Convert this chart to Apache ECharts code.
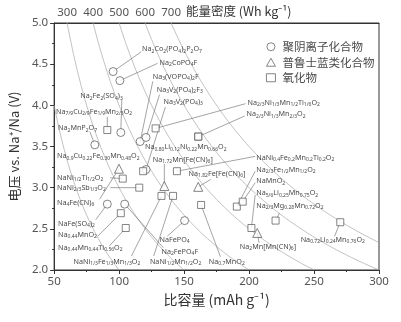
<!DOCTYPE html>
<html><head><meta charset="utf-8">
<script src="https://cdn.jsdelivr.net/npm/echarts@6/dist/echarts.min.js"></script>
<style>html,body{margin:0;padding:0;background:#fff}#c{width:401px;height:322px}</style>
</head><body><div id="c"></div>
<script>
// ---------- DATA ----------
// Specific capacity (mAh/g) and voltage (V vs Na+/Na) of each cathode material
const polyanion = [
  ['Na_2Co_2(PO_4)_2P_2O_7', 95.4, 4.41],
  ['Na_2CoPO_4F', 100.6, 4.30],
  ['Na_2Fe_2(SO_4)_3', 101.3, 3.67],
  ['Na_2MnP_2O_7', 81.3, 3.52],
  ['Na_3(VOPO_4)_2F', 116.2, 3.56],
  ['Na_3V_2(PO_4)_2F_3', 120.7, 3.61],
  ['Na_3V_2(PO_4)_3', 120.7, 3.22],
  ['NaFe(SO_4)_2', 90.9, 2.80],
  ['Na_2FePO_4F', 104.3, 2.80],
  ['NaFePO_4', 150.4, 2.60]
];
const prussian = [
  ['Na_4Fe(CN)_6', 99.9, 3.23],
  ['Na_1.72Mn[Fe(CN)_6]', 134.8, 3.02],
  ['Na_1.82Fe[Fe(CN)_6]', 160.9, 3.01],
  ['Na_2Mn[Mn(CN)_6]', 206.3, 2.45]
];
const oxide = [
  ['Na_7/9Cu_2/9Fe_1/9Mn_2/3O_2', 90.9, 3.70],
  ['Na_2/3Ni_1/3Mn_1/2Ti_1/6O_2', 128.1, 3.72],
  ['Na_2/3Ni_1/3Mn_2/3O_2', 160.9, 3.62],
  ['Na_0.80Li_0.12Ni_0.22Mn_0.66O_2', 160.9, 3.62],
  ['Na_0.9Cu_0.22Fe_0.30Mn_0.48O_2', 118.5, 3.20],
  ['NaNi_1/2Ti_1/2O_2', 102.8, 3.11],
  ['NaNi_2/3Sb_1/3O_2', 115.5, 3.00],
  ['NaNi_1/3Fe_1/3Mn_1/3O_2', 132.6, 2.90],
  ['NaNi_1/2Mn_1/2O_2', 141.5, 2.90],
  ['NaNi_0.4Fe_0.2Mn_0.2Ti_0.2O_2', 144.5, 3.20],
  ['Na_0.7MnO_2', 163.1, 2.79],
  ['Na_2/3Fe_1/2Mn_1/2O_2', 190.6, 2.77],
  ['NaMnO_2', 195.1, 2.83],
  ['Na_5/6Li_0.25Mn_0.75O_2', 201.8, 2.51],
  ['Na_2/3Mg_0.28Mn_0.72O_2', 220.4, 2.60],
  ['Na_0.72Li_0.24Mn_0.76O_2', 270.2, 2.58],
  ['Na_0.44MnO_2', 101.3, 2.69],
  ['Na_0.44Mn_0.44Ti_0.56O_2', 105.1, 2.51]
];
const categoryNames = ['聚阴离子化合物', '普鲁士蓝类化合物', '氧化物'];
// iso-energy-density guide curves (Wh/kg): V = E / C
const energyLevels = [200, 300, 400, 500, 600, 700];
const xTickValues = [50, 100, 150, 200, 250, 300];
const yTickValues = [2.0, 2.5, 3.0, 3.5, 4.0, 4.5, 5.0];
const topTickLabels = [300, 400, 500, 600, 700];

// ---------- LAYOUT (label anchor & leader start, in data units) ----------
const labelLayout = [
  ['Na_2Co_2(PO_4)_2P_2O_7', [117.7, 4.68], [117.0, 4.65]],
  ['Na_2CoPO_4F', [131.1, 4.52], [129.6, 4.51]],
  ['Na_3(VOPO_4)_2F', [125.9, 4.35], [125.9, 4.29]],
  ['Na_3V_2(PO_4)_2F_3', [128.9, 4.19], [131.1, 4.13]],
  ['Na_3V_2(PO_4)_3', [134.1, 4.04], [135.6, 3.98]],
  ['Na_2/3Ni_1/3Mn_1/2Ti_1/6O_2', [198.8, 4.03], [197.3, 4.02]],
  ['Na_2/3Ni_1/3Mn_2/3O_2', [198.1, 3.89], [196.6, 3.87]],
  ['NaNi_0.4Fe_0.2Mn_0.2Ti_0.2O_2', [205.5, 3.36], [204.7, 3.38]],
  ['Na_2/3Fe_1/2Mn_1/2O_2', [205.5, 3.22], [204.7, 3.20]],
  ['NaMnO_2', [205.5, 3.08], [204.7, 3.06]],
  ['Na_5/6Li_0.25Mn_0.75O_2', [205.5, 2.93], [204.7, 2.91]],
  ['Na_2/3Mg_0.28Mn_0.72O_2', [205.5, 2.78], [223.4, 2.69]],
  ['Na_0.80Li_0.12Ni_0.22Mn_0.66O_2', [119.9, 3.49], null],
  ['Na_1.72Mn[Fe(CN)_6]', [125.9, 3.34], [134.8, 3.29]],
  ['Na_1.82Fe[Fe(CN)_6]', [153.4, 3.17], [170.5, 3.10]],
  ['Na_2Fe_2(SO_4)_3', [70.1, 4.11], [102.1, 4.07]],
  ['Na_7/9Cu_2/9Fe_1/9Mn_2/3O_2', [51.5, 3.92], [90.9, 3.86]],
  ['Na_2MnP_2O_7', [53.0, 3.72], [77.5, 3.68]],
  ['Na_0.9Cu_0.22Fe_0.30Mn_0.48O_2', [52.2, 3.38], null],
  ['NaNi_1/2Ti_1/2O_2', [52.2, 3.12], [93.2, 3.12]],
  ['NaNi_2/3Sb_1/3O_2', [52.2, 3.00], [93.2, 3.00]],
  ['Na_4Fe(CN)_6', [52.2, 2.82], [85.0, 2.86]],
  ['NaFe(SO_4)_2', [53.0, 2.56], [82.0, 2.61]],
  ['Na_0.44MnO_2', [53.0, 2.43], [83.5, 2.41]],
  ['Na_0.44Mn_0.44Ti_0.56O_2', [53.0, 2.27], [92.4, 2.29]],
  ['NaNi_1/3Fe_1/3Mn_1/3O_2', [64.9, 2.10], [109.5, 2.17]],
  ['NaNi_1/2Mn_1/2O_2', [123.7, 2.10], [126.6, 2.17]],
  ['NaFePO_4', [131.1, 2.37], [137.1, 2.41]],
  ['Na_2FePO_4F', [132.6, 2.22], [134.1, 2.27]],
  ['Na_0.7MnO_2', [169.0, 2.10], [178.0, 2.16]],
  ['Na_2Mn[Mn(CN)_6]', [192.9, 2.28], [207.7, 2.33]],
  ['Na_0.72Li_0.24Mn_0.76O_2', [239.7, 2.37], [265.8, 2.41]]
];

// ---------- BUILD ----------
const FONT = '"Noto Sans", "Open Sans", sans-serif';
const CJK = '"Noto Sans CJK SC", sans-serif';
const TXT = '#4a4a4a';
function toRich(s) {
  let out = '', buf = '', i = 0;
  const flush = () => { if (buf) { out += '{m|' + buf + '}'; buf = ''; } };
  while (i < s.length) {
    const ch = s[i];
    if (ch === '_') {
      flush();
      let j = i + 1, sub = '';
      while (j < s.length && /[0-9.\/]/.test(s[j])) { sub += s[j]; j++; }
      out += '{s|' + sub + '}';
      i = j;
    } else { buf += ch; i++; }
  }
  flush();
  return out;
}
const allPoints = {};
[polyanion, prussian, oxide].forEach(arr => arr.forEach(p => { allPoints[p[0]] = [p[1], p[2]]; }));
const annData = labelLayout.map(l => {
  const target = allPoints[l[0]];
  const from = l[2] || [NaN, NaN];
  return [l[1][0], l[1][1], from[0], from[1], target[0], target[1], l[0]];
});
const richStyles = {
  m: { fontSize: 7.2, lineHeight: 9, fontFamily: FONT, fill: TXT, color: TXT },
  s: { fontSize: 5, lineHeight: 5, fontFamily: FONT, verticalAlign: 'bottom', fill: TXT, color: TXT }
};

const curveSeries = energyLevels.map(E => {
  const cStart = Math.max(50, E / 5), cEnd = Math.min(300, E / 2);
  const pts = [];
  for (let c = cStart; c < cEnd; c += 1) pts.push([c, E / c]);
  pts.push([cEnd, E / cEnd]);
  return {
    type: 'line', data: pts, showSymbol: false, symbol: 'none', silent: true, z: 1,
    lineStyle: { color: '#a8a8a8', width: 0.7 }
  };
});

const markerStyle = { color: '#fff', borderColor: '#555', borderWidth: 0.9 };
function scatter(name, arr, symbol, size) {
  return {
    name, type: 'scatter', symbol, symbolSize: size, z: 5,
    itemStyle: markerStyle,
    data: arr.map(p => [p[1], p[2], p[0]])
  };
}

const chart = echarts.init(document.getElementById('c'), null, { renderer: 'canvas' });
chart.setOption({
  animation: false,
  backgroundColor: '#fff',
  grid: { left: 43, right: 22, top: 23, bottom: 52, show: true, borderColor: '#333', borderWidth: 1 },
  legend: {
    data: categoryNames, orient: 'vertical', left: 261, top: 36, itemWidth: 9, itemHeight: 8, itemGap: 4,
    itemStyle: { color: '#fff', borderColor: '#555', borderWidth: 0.9 },
    textStyle: { fontSize: 11.5, color: TXT, fontFamily: CJK, padding: [0, 0, 0, 2] }
  },
  graphic: [{
    type: 'text', left: 186, top: 5,
    style: { text: '能量密度 (Wh kg⁻¹)', fontSize: 12.5, fill: '#333', fontFamily: CJK }
  }],
  xAxis: [{
    type: 'value', min: xTickValues[0], max: xTickValues[xTickValues.length - 1], interval: 50,
    name: '比容量 (mAh g⁻¹)', nameLocation: 'middle', nameGap: 20,
    nameTextStyle: { fontSize: 14, color: '#333', fontFamily: CJK },
    axisLine: { lineStyle: { color: '#333' } },
    axisTick: { length: 4, lineStyle: { color: '#333' } },
    minorTick: { show: true, splitNumber: 2, length: 2, lineStyle: { color: '#333' } },
    splitLine: { show: false },
    axisLabel: { fontSize: 11.5, color: '#555', margin: 6, fontFamily: FONT }
  }, {
    type: 'value', position: 'top', min: 250, max: 1500, interval: 50,
    axisLine: { show: true, lineStyle: { color: '#333' } },
    axisTick: { show: false }, splitLine: { show: false },
    axisLabel: {
      fontSize: 11.5, color: '#555', margin: 4, fontFamily: FONT,
      formatter: v => topTickLabels.indexOf(v) >= 0 ? String(v) : ''
    }
  }],
  yAxis: {
    type: 'value', min: yTickValues[0], max: yTickValues[yTickValues.length - 1], interval: 0.5,
    name: '电压 vs. Na⁺/Na (V)', nameLocation: 'middle', nameGap: 26,
    nameTextStyle: { fontSize: 13, color: '#333', fontFamily: CJK },
    axisLine: { show: true, lineStyle: { color: '#333' } },
    axisTick: { show: true, length: 4, lineStyle: { color: '#333' } },
    minorTick: { show: true, splitNumber: 2, length: 2, lineStyle: { color: '#333' } },
    splitLine: { show: false },
    axisLabel: { fontSize: 11.5, color: '#555', margin: 6, fontFamily: FONT, formatter: v => v.toFixed(1) }
  },
  series: [
    ...curveSeries,
    {
      type: 'custom', coordinateSystem: 'cartesian2d', xAxisIndex: 0, yAxisIndex: 0, silent: true, z: 3,
      data: annData,
      encode: { x: 0, y: 1 },
      renderItem: (params, api) => {
        const d = annData[params.dataIndex];
        const at = api.coord([d[0], d[1]]);
        const children = [];
        if (!isNaN(d[2])) {
          const f = api.coord([d[2], d[3]]);
          const t = api.coord([d[4], d[5]]);
          children.push({ type: 'line', shape: { x1: f[0], y1: f[1], x2: t[0], y2: t[1] }, style: { stroke: '#666', lineWidth: 0.6 } });
        }
        children.push({
          type: 'text', x: at[0], y: at[1],
          style: { text: toRich(d[6]), rich: richStyles, align: 'left', verticalAlign: 'middle', fill: TXT }
        });
        return { type: 'group', children };
      }
    },
    scatter(categoryNames[0], polyanion, 'circle', 8),
    scatter(categoryNames[1], prussian, 'triangle', 9),
    scatter(categoryNames[2], oxide, 'rect', 7)
  ]
});
</script></body></html>
